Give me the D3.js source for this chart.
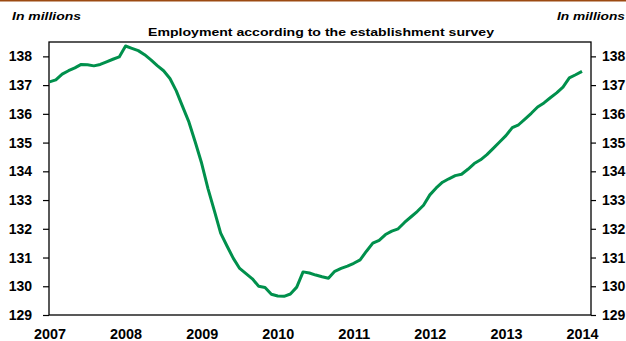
<!DOCTYPE html>
<html>
<head>
<meta charset="utf-8">
<script src="https://cdn.jsdelivr.net/npm/d3@7"></script>
<style>
  html, body { margin: 0; padding: 0; background: #fff; }
  svg { display: block; font-family: "Liberation Sans", Arial, sans-serif; }
</style>
</head>
<body>
<svg id="chart" width="626" height="341"></svg>
<script>
// Nonfarm payroll employment, millions, monthly Jan 2007 .. Jan 2014
const startYear = 2007;
const employment = [
  137.11, 137.18, 137.38, 137.50, 137.60, 137.72, 137.71, 137.67, 137.72, 137.81, 137.90, 137.98,
  138.36, 138.28, 138.20, 138.06, 137.88, 137.68, 137.50, 137.23, 136.80, 136.25, 135.71, 135.01,
  134.28, 133.40, 132.63, 131.85, 131.40, 130.97, 130.62, 130.44, 130.26, 130.00, 129.96, 129.72,
  129.66, 129.65, 129.73, 129.97, 130.50, 130.46, 130.39, 130.33, 130.28, 130.52, 130.62, 130.70,
  130.80, 130.92, 131.22, 131.50, 131.60, 131.80, 131.92, 132.00, 132.22, 132.41, 132.60, 132.82,
  133.18, 133.42, 133.62, 133.74, 133.85, 133.90, 134.07, 134.27, 134.40, 134.58, 134.80, 135.02,
  135.24, 135.52, 135.62, 135.82, 136.02, 136.24, 136.38, 136.56, 136.73, 136.93, 137.25, 137.36,
  137.48
];
const yearLabels = ["2007", "2008", "2009", "2010", "2011", "2012", "2013", "2014"];
const yTicks = [129, 130, 131, 132, 133, 134, 135, 136, 137, 138];
const unitLabel = "In millions";
const titleText = "Employment according to the establishment survey";

const svg = d3.select("#chart");
const plot = { left: 49, right: 591, top: 42, bottom: 315 };

const x = d3.scaleLinear().domain([0, 84]).range([49.5, 582]);
const y = d3.scaleLinear().domain([129, 138.5]).range([plot.bottom, plot.top]);

const labelFont = "Liberation Sans, Arial, sans-serif";

// brown rule across the top
svg.append("rect").attr("x", 0).attr("y", 0).attr("width", 626).attr("height", 1.5)
  .attr("fill", "#9c4a12");

// unit labels
svg.append("text").attr("x", 12).attr("y", 20)
  .attr("font-size", 11.5).attr("font-weight", "bold").attr("font-style", "italic")
  .attr("textLength", 69).attr("lengthAdjust", "spacingAndGlyphs")
  .text(unitLabel);
svg.append("text").attr("x", 625).attr("y", 20).attr("text-anchor", "end")
  .attr("font-size", 11.5).attr("font-weight", "bold").attr("font-style", "italic")
  .attr("textLength", 68).attr("lengthAdjust", "spacingAndGlyphs")
  .text(unitLabel);

// title
svg.append("text").attr("x", 321).attr("y", 36).attr("text-anchor", "middle")
  .attr("font-size", 11.5).attr("font-weight", "bold")
  .attr("textLength", 346).attr("lengthAdjust", "spacingAndGlyphs")
  .text(titleText);

function styleTicks(g) {
  g.select(".domain").remove();
  g.selectAll(".tick line").attr("stroke", "#000").attr("stroke-width", 1.2);
  g.selectAll(".tick text").attr("font-size", 14).attr("font-weight", "bold")
    .attr("font-family", labelFont).attr("fill", "#000");
}

// left axis
const leftAxis = d3.axisLeft(y).tickValues(yTicks).tickSize(6).tickPadding(11)
  .tickFormat(d3.format("d"));
svg.append("g").attr("transform", `translate(${plot.left},0)`).call(leftAxis).call(styleTicks);

// right axis
const rightAxis = d3.axisRight(y).tickValues(yTicks).tickSize(5).tickPadding(6)
  .tickFormat(d3.format("d"));
svg.append("g").attr("transform", `translate(${plot.right},0)`).call(rightAxis).call(styleTicks);

// bottom axis: year labels at each January
const bottomAxis = d3.axisBottom(x).tickValues(yearLabels.map((_, i) => i * 12))
  .tickSize(0).tickPadding(14).tickFormat((d, i) => yearLabels[i]);
const gB = svg.append("g").attr("transform", `translate(0,${plot.bottom})`).call(bottomAxis).call(styleTicks);
gB.selectAll(".tick text").attr("textLength", 32).attr("lengthAdjust", "spacingAndGlyphs");

// plot frame
svg.append("rect")
  .attr("x", plot.left).attr("y", plot.top)
  .attr("width", plot.right - plot.left).attr("height", plot.bottom - plot.top)
  .attr("fill", "none").attr("stroke", "#000").attr("stroke-width", 1.3);

// employment line
const line = d3.line().x((d, i) => x(i)).y(d => y(d));
svg.append("path").datum(employment)
  .attr("d", line)
  .attr("fill", "none").attr("stroke", "#00904c").attr("stroke-width", 3)
  .attr("stroke-linejoin", "round");
</script>
</body>
</html>
